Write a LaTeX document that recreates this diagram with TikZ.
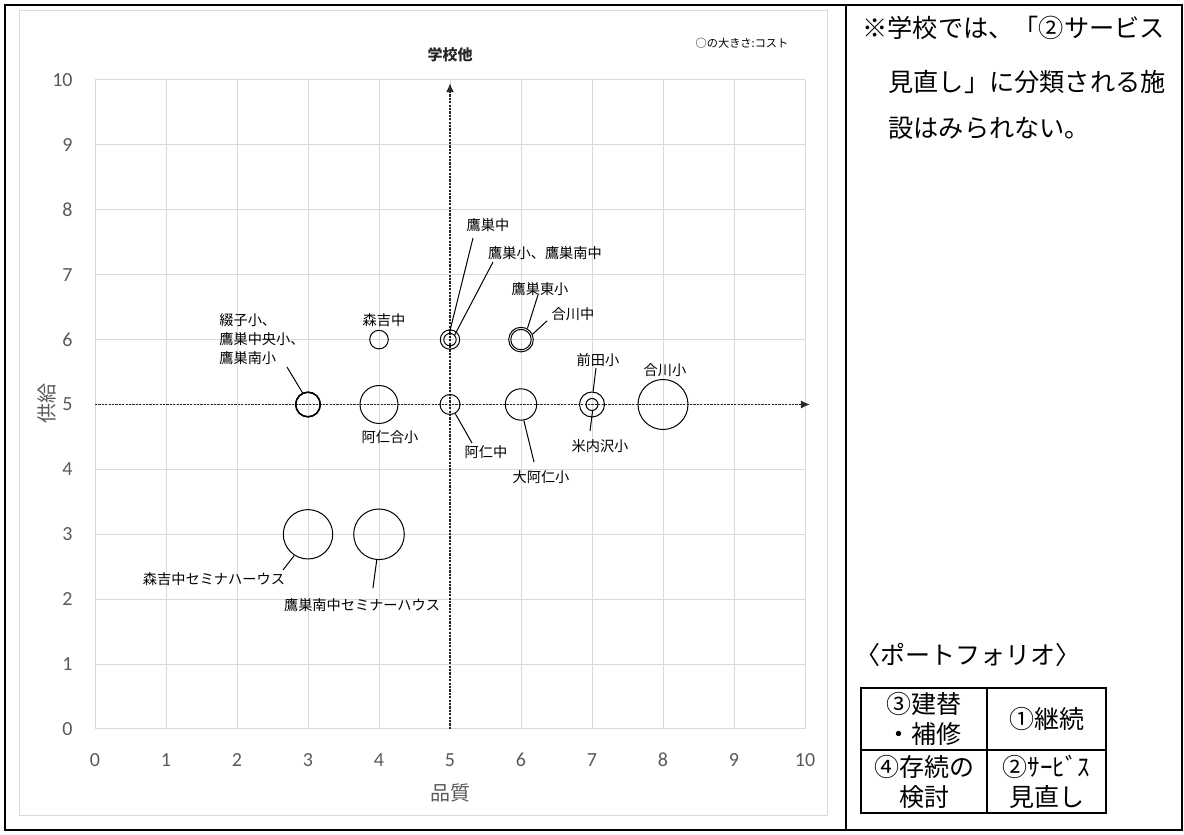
\documentclass[tikz,border=0pt]{standalone}
\usepackage{fontspec}
\usepackage{xcolor}
\usepackage{tikz}
\usetikzlibrary{positioning,calc,arrows.meta}
\newfontfamily\jpfont{Noto Sans CJK JP}
\newfontfamily\numfont{Carlito}
\definecolor{gridgray}{HTML}{D9D9D9}
\definecolor{axisgray}{HTML}{595959}
\definecolor{dashgray}{HTML}{262626}
\tikzset{
  bub/.style={circle, draw, line width=0.5pt, inner sep=0pt, minimum size=#1},
  lbl/.style={font=\jpfont\fontsize{7.1}{9.5}\selectfont, inner sep=0pt},
  ticklab/.style={font=\numfont\fontsize{10}{12}\selectfont, text=axisgray, inner sep=0pt},
  leader/.style={line width=0.5pt},
  quadaxis/.style={dashgray, line width=0.7pt, dash pattern=on 1.1pt off 0.6pt, -{Latex[length=4.5pt,width=4pt]}},
  cell/.style={draw, line width=1pt, outer sep=0pt, inner sep=0pt, align=center, font=\jpfont\fontsize{12.5}{15}\selectfont},
  note/.style={anchor=west, inner sep=0pt, font=\jpfont\fontsize{12.6}{15}\selectfont}
}
\begin{document}
\begin{tikzpicture}[x=0.5pt, y=0.5pt, font=\jpfont]
    \useasboundingbox (0,0) rectangle (1184,835);
    % frame
    \draw[line width=1.25pt] (5,5) rectangle (1182,830);
    \draw[line width=1pt] (846,5) -- (846,830);
    \draw[gridgray, line width=0.5pt] (19,19) rectangle (827,824);

    % Bubble chart
    \begin{scope}[shift={(47.5pt,53pt)}, x=35.5pt, y=32.45pt]
        \foreach \k in {0,...,10} {
            \draw[gridgray, line width=0.5pt] (\k,0) -- (\k,10);
            \draw[gridgray, line width=0.5pt] (0,\k) -- (10,\k);
            \node[ticklab, anchor=east] (yt\k) at (-0.31,\k) {\k};
            \node[ticklab] (xt\k) at (\k,-0.478) {\k};
        }
        \node[font=\jpfont\fontsize{10}{12}\selectfont, text=axisgray] (xtitle) at (5,-0.986) {品質};
        \node[font=\jpfont\fontsize{10}{12}\selectfont, text=axisgray, rotate=90] (ytitle) at (-0.676,5.02) {供給};

        \coordinate (hx0) at (0,5);
        \coordinate (hx1) at (10.07,5);
        \coordinate (vy0) at (5,0);
        \coordinate (vy1) at (5,9.95);
        \draw[quadaxis] (hx0) -- (hx1);
        \draw[quadaxis] (vy0) -- (vy1);
        \node[font=\jpfont\bfseries\fontsize{7.5}{9}\selectfont, text=dashgray] (title) at (5,10.385) {学校他};
        \node[font=\jpfont\fontsize{5.6}{7}\selectfont] (legend) at (9.113,10.57) {○の大きさ:コスト};

        % bubbles
        \node[bub=12.0pt] (tsu1) at (3,5) {};
        \node[bub=12.3pt] (tsu2) at (3,5) {};
        \node[bub=12.6pt] (tsu3) at (3,5) {};
        \node[bub=19pt] (aniai) at (4,5) {};
        \node[bub=10pt] (aniJ) at (5,5) {};
        \node[bub=9.3pt] (moriJ) at (4,6) {};
        \node[bub=9.7pt] (takaJ) at (5,6) {};
        \node[bub=6.2pt] (takaS) at (5,6) {};
        \node[bub=12.3pt] (higaS) at (6,6) {};
        \node[bub=10.2pt] (kawaJ) at (6,6) {};
        \node[bub=15.7pt] (oani) at (6,5) {};
        \node[bub=12.5pt] (maeda) at (7,5) {};
        \node[bub=6pt] (yone) at (7,5) {};
        \node[bub=25pt] (kawaS) at (8,5) {};
        \node[bub=24.7pt] (moriSem) at (3,3) {};
        \node[bub=25.3pt] (takaSem) at (4,3) {};

        % labels
        \node[lbl] (lbTakaJ) at (5.535,7.766) {鷹巣中};
        \node[lbl] (lbTakaS) at (6.338,7.334) {鷹巣小、鷹巣南中};
        \node[lbl] (lbHigaS) at (6.268,6.780) {鷹巣東小};
        \node[lbl] (lbKawaJ) at (6.732,6.394) {合川中};
        \node[lbl] (lbMaeda) at (7.085,5.686) {前田小};
        \node[lbl] (lbKawaS) at (8.028,5.532) {合川小};
        \node[lbl] (lbYone) at (7.113,4.361) {米内沢小};
        \node[lbl] (lbOani) at (6.282,3.883) {大阿仁小};
        \node[lbl] (lbAniJ) at (5.507,4.268) {阿仁中};
        \node[lbl] (lbAniai) at (4.155,4.499) {阿仁合小};
        \node[lbl] (lbMoriJ) at (4.070,6.302) {森吉中};
        \node[lbl, anchor=west, align=left] (lbTsu) at (1.746,6.01) {綴子小、\\鷹巣中央小、\\鷹巣南小};
        \node[lbl] (lbMoriSem) at (1.676,2.311) {森吉中セミナハーウス};
        \node[lbl] (lbTakaSem) at (3.761,1.911) {鷹巣南中セミナーハウス};

        % leader lines
        \coordinate (ldTakaJ) at (5.324,7.565);
        \coordinate (ldTakaS) at (5.606,7.196);
        \coordinate (ldHigaS) at (6.239,6.687);
        \coordinate (ldKawaJ) at (6.366,6.287);
        \coordinate (ldMaeda) at (7.056,5.562);
        \coordinate (ldYone) at (6.972,4.592);
        \coordinate (ldOani) at (6.183,4.114);
        \coordinate (ldAniJ) at (5.310,4.407);
        \coordinate (ldTsu) at (2.704,5.578);
        \coordinate (ldMoriSem) at (2.648,2.450);
        \coordinate (ldTakaSem) at (3.915,2.173);
        \draw[leader] (ldTakaJ) -- (takaS.95);
        \draw[leader] (ldTakaS) -- (takaS.45);
        \draw[leader] (ldHigaS) -- (higaS.60);
        \draw[leader] (ldKawaJ) -- (higaS.25);
        \draw[leader] (ldMaeda) -- (maeda.85);
        \draw[leader] (ldYone) -- (yone.-85);
        \draw[leader] (ldOani) -- (oani.-80);
        \draw[leader] (ldAniJ) -- (aniJ.-60);
        \draw[leader] (ldTsu) -- (tsu2.115);
        \draw[leader] (ldMoriSem) -- (moriSem.-123);
        \draw[leader] (ldTakaSem) -- (takaSem.-95);
    \end{scope}

    % note
    \node[note] (note1) at (862,807) {※学校では、「②サービス};
    \node[note] (note2) at (888,753) {見直し」に分類される施};
    \node[note] (note3) at (888,707) {設はみられない。};

    % portfolio
    \node[anchor=west, inner sep=0pt, font=\jpfont\fontsize{12.5}{15}\selectfont] (pfTitle) at (855,180) {〈ポートフォリオ〉};
    \node[cell, minimum width=63pt, minimum height=31pt] (q3) at (924,116) {③建替\\・補修};
    \node[cell, minimum width=59.5pt, minimum height=31pt, right=0pt of q3] (q1) {①継続};
    \node[cell, minimum width=63pt, minimum height=31.5pt, below=0pt of q3] (q4) {④存続の\\検討};
    \node[cell, minimum width=59.5pt, minimum height=31.5pt, right=0pt of q4] (q2) {②ｻｰﾋﾞｽ\\見直し};
\end{tikzpicture}
\end{document}
